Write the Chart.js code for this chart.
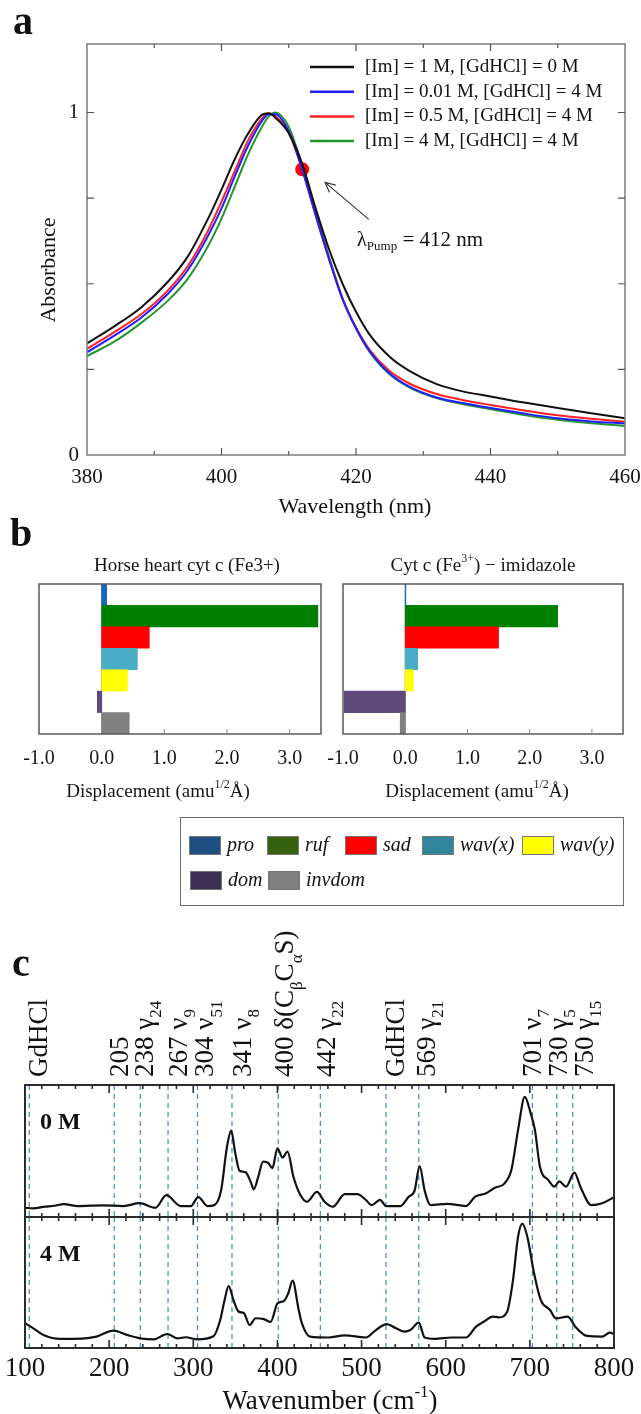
<!DOCTYPE html>
<html>
<head>
<meta charset="utf-8">
<script src="https://cdn.jsdelivr.net/npm/chart.js@4.4.1/dist/chart.umd.min.js"></script>
<style>
  body { margin: 0; background: #fff; }
  #page { position: relative; width: 641px; height: 1414px; overflow: hidden; font-family: "Liberation Serif", "Times New Roman", serif; color: #111; }
  canvas { position: absolute; }
  .tag { position: absolute; font: bold 40px/40px "Liberation Serif", serif; color: #111; }
  #legendB { position: absolute; left: 180px; top: 817px; width: 442px; height: 87px; border: 1.5px solid #6a6a6a; }
  .sw { position: absolute; width: 30px; height: 17px; border: 1px solid #777; }
  .lt { position: absolute; font: italic 20px/20px "Liberation Serif", serif; color: #111; }
</style>
</head>
<body>
<div id="page">
  <canvas id="cA" width="641" height="520" style="left:0;top:0"></canvas>
  <canvas id="cB1" width="325" height="270" style="left:0;top:540px"></canvas>
  <canvas id="cB2" width="316" height="270" style="left:325px;top:540px"></canvas>
  <canvas id="cC1" width="641" height="330" style="left:0;top:890px"></canvas>
  <canvas id="cC2" width="641" height="204" style="left:0;top:1210px"></canvas>
  <div id="legendB"></div>
  <div class="tag" style="left:13px;top:1px">a</div>
  <div class="tag" style="left:10px;top:513px">b</div>
  <div class="tag" style="left:12px;top:943px">c</div>
</div>
<script>
// ---- panel a : absorbance spectra ----
const wavelength = [380, 384, 388, 392, 395, 398, 400, 402, 404, 406, 407, 408, 410, 412, 414, 416, 418, 420, 422, 425, 428, 432, 436, 440, 445, 450, 455, 460];
const absIm1 = [0.326, 0.375, 0.43, 0.505, 0.58, 0.69, 0.775, 0.865, 0.94, 0.993, 0.998, 0.985, 0.94, 0.85, 0.72, 0.60, 0.50, 0.418, 0.352, 0.287, 0.245, 0.207, 0.185, 0.171, 0.153, 0.137, 0.122, 0.107];
const absIm001 = [0.30, 0.348, 0.40, 0.47, 0.54, 0.64, 0.72, 0.815, 0.905, 0.975, 0.995, 0.995, 0.945, 0.834, 0.70, 0.572, 0.455, 0.37, 0.304, 0.238, 0.199, 0.168, 0.151, 0.137, 0.121, 0.107, 0.098, 0.092];
const absIm05 = [0.31, 0.358, 0.41, 0.48, 0.552, 0.655, 0.74, 0.83, 0.92, 0.982, 0.998, 0.99, 0.94, 0.834, 0.70, 0.572, 0.456, 0.372, 0.308, 0.245, 0.208, 0.178, 0.16, 0.146, 0.13, 0.116, 0.106, 0.097];
const absIm4 = [0.289, 0.33, 0.385, 0.45, 0.515, 0.61, 0.69, 0.785, 0.88, 0.958, 0.988, 1.0, 0.958, 0.845, 0.71, 0.578, 0.458, 0.37, 0.302, 0.236, 0.197, 0.166, 0.148, 0.134, 0.117, 0.103, 0.093, 0.085];
const absLabels = ['[Im] = 1 M, [GdHCl] = 0 M', '[Im] = 0.01 M, [GdHCl] = 4 M', '[Im] = 0.5 M, [GdHCl] = 4 M', '[Im] = 4 M, [GdHCl] = 4 M'];
const absColors = ['#111111', '#1f1fff', '#ff2020', '#23952a'];
const pumpNm = 412, pumpAbs = 0.834;
const arrowFrom = [421.9, 0.688], arrowTo = [415.4, 0.796], pumpTextAt = [420.1, 0.627];

// ---- panel b : out-of-plane displacements ----
const modes = ['pro', 'ruf', 'sad', 'wav(x)', 'wav(y)', 'dom', 'invdom'];
const dispNative = [0.08, 3.45, 0.76, 0.57, 0.41, -0.07, 0.44];
const dispImidazole = [0.01, 2.45, 1.50, 0.20, 0.13, -0.98, -0.08];
const barColors = ['#1068c4', '#008000', '#ff0000', '#4bacc6', '#ffff00', '#604a7b', '#808080'];
const legendColors = ['#1f4e82', '#36620f', '#ff0000', '#31869b', '#ffff00', '#3d3052', '#808080'];

// ---- panel c : spectra ----
const wn0M = [100, 109, 124, 135, 146, 163, 192, 217, 236, 255, 268, 285, 297, 306, 317, 325, 333, 340, 345, 350, 355, 362, 368, 372, 377, 383, 389, 394, 400, 406, 412, 419, 427, 435, 447, 456, 466, 480, 495, 505, 512, 522, 529, 546, 556, 563, 569, 575, 582, 602, 624, 635, 648, 658, 670, 678, 686, 694, 701, 706, 712, 722, 729, 735, 743, 753, 760, 773, 786, 800];
const int0M = [0.07, 0.066, 0.078, 0.085, 0.098, 0.083, 0.088, 0.083, 0.105, 0.07, 0.165, 0.083, 0.083, 0.15, 0.083, 0.09, 0.20, 0.53, 0.654, 0.48, 0.35, 0.34, 0.27, 0.21, 0.30, 0.42, 0.41, 0.37, 0.52, 0.45, 0.495, 0.305, 0.17, 0.115, 0.19, 0.116, 0.078, 0.174, 0.174, 0.13, 0.09, 0.13, 0.083, 0.083, 0.154, 0.20, 0.386, 0.20, 0.09, 0.10, 0.083, 0.154, 0.18, 0.22, 0.255, 0.356, 0.66, 0.91, 0.785, 0.66, 0.38, 0.28, 0.23, 0.27, 0.23, 0.336, 0.23, 0.09, 0.104, 0.15];
const wn4M = [100, 110, 122, 142, 168, 185, 205, 221, 237, 253, 269, 281, 291, 304, 324, 332, 337, 342, 348, 354, 360, 367, 374, 384, 392, 400, 408, 413, 418, 425, 429, 439, 461, 480, 505, 517, 530, 541, 551, 558, 568, 575, 587, 607, 624, 636, 645, 656, 663, 673, 680, 686, 691, 697, 705, 713, 724, 731, 745, 754, 768, 786, 795, 800];
const int4M = [0.19, 0.15, 0.10, 0.07, 0.072, 0.087, 0.132, 0.10, 0.074, 0.066, 0.107, 0.074, 0.082, 0.066, 0.09, 0.214, 0.36, 0.473, 0.36, 0.277, 0.267, 0.175, 0.227, 0.22, 0.20, 0.34, 0.36, 0.42, 0.514, 0.30, 0.19, 0.087, 0.08, 0.097, 0.08, 0.137, 0.183, 0.15, 0.125, 0.137, 0.193, 0.08, 0.07, 0.08, 0.08, 0.163, 0.20, 0.24, 0.234, 0.277, 0.52, 0.85, 0.95, 0.85, 0.57, 0.366, 0.29, 0.226, 0.24, 0.163, 0.092, 0.087, 0.117, 0.107];
const markerWn = [105, 206, 237, 270, 305, 346, 401, 451, 529, 568, 703, 732, 751];
const peakLabelWn = [126, 223, 252, 292, 324, 368, 419, 468, 551, 587, 713, 744, 775];
const peakLabels = [
  [['GdHCl']],
  [['205']],
  [['238 γ'], ['24', 'sub']],
  [['267 ν'], ['9', 'sub']],
  [['304 ν'], ['51', 'sub']],
  [['341 ν'], ['8', 'sub']],
  [['400 δ(C'], ['β', 'sub'], ['C'], ['α', 'sub'], ['S)']],
  [['442 γ'], ['22', 'sub']],
  [['GdHCl']],
  [['569 γ'], ['21', 'sub']],
  [['701 ν'], ['7', 'sub']],
  [['730 γ'], ['5', 'sub']],
  [['750 γ'], ['15', 'sub']]
];

const SERIF = '"Liberation Serif", "Times New Roman", serif';
Chart.defaults.font.family = SERIF;
Chart.defaults.color = '#151515';
Chart.defaults.animation = false;
Chart.defaults.responsive = false;
Chart.defaults.events = [];
Chart.defaults.plugins.legend.display = false;
Chart.defaults.plugins.tooltip.enabled = false;

// text with sub/superscripts
function rich(ctx, parts, x, y, size, style, align) {
  const f = p => (style || '') + (p[1] ? Math.round(size * 0.62) : size) + 'px ' + SERIF;
  let w = 0;
  for (const p of parts) { ctx.font = f(p); w += ctx.measureText(p[0]).width; }
  let cx = align === 'center' ? x - w / 2 : x;
  ctx.textAlign = 'left';
  for (const p of parts) {
    ctx.font = f(p);
    const dy = p[1] === 'sub' ? size * 0.3 : p[1] === 'sup' ? -size * 0.36 : 0;
    ctx.fillText(p[0], cx, y + dy);
    cx += ctx.measureText(p[0]).width;
  }
}

// inward tick marks
function ticksX(chart, step, len, major, majorLen, sides) {
  const ctx = chart.ctx, s = chart.scales.x, a = chart.chartArea;
  ctx.beginPath();
  for (let v = s.min + step; v < s.max - 1e-9; v += step) {
    const px = s.getPixelForValue(v);
    const L = Math.abs(v / major - Math.round(v / major)) < 1e-6 ? majorLen : len;
    if (sides.includes('bottom')) { ctx.moveTo(px, a.bottom); ctx.lineTo(px, a.bottom - L); }
    if (sides.includes('top')) { ctx.moveTo(px, a.top); ctx.lineTo(px, a.top + L); }
  }
  ctx.stroke();
}
function ticksY(chart, step, len) {
  const ctx = chart.ctx, s = chart.scales.y, a = chart.chartArea;
  ctx.beginPath();
  for (let v = s.min + step; v < s.max - 1e-9; v += step) {
    const py = s.getPixelForValue(v);
    ctx.moveTo(a.left, py); ctx.lineTo(a.left + len, py);
    ctx.moveTo(a.right, py); ctx.lineTo(a.right - len, py);
  }
  ctx.stroke();
}
// keep the chart area where the layout padding puts it
function fixHeight(h) {
  return s => { s.height = h; s.paddingLeft = 0; s.paddingRight = 0; };
}

// ---------- panel a ----------
const panelA = {
  id: 'panelA',
  afterDraw(chart) {
    const ctx = chart.ctx, a = chart.chartArea, x = chart.scales.x, y = chart.scales.y;
    ctx.save();
    ctx.strokeStyle = '#7d7d7d'; ctx.lineWidth = 1.5;
    ctx.strokeRect(a.left, a.top, a.width, a.height);
    ctx.strokeStyle = '#555'; ctx.lineWidth = 1.2;
    ticksX(chart, 10, 4, 20, 7, ['top', 'bottom']);
    ticksY(chart, 0.25, 7);

    // legend
    ctx.textBaseline = 'middle';
    chart.data.datasets.slice(0, 4).forEach((ds, i) => {
      const ly = 67 + i * 24.7;
      ctx.strokeStyle = ds.borderColor; ctx.lineWidth = 2.5;
      ctx.beginPath(); ctx.moveTo(310, ly); ctx.lineTo(354, ly); ctx.stroke();
      ctx.fillStyle = '#111'; ctx.font = '19px ' + SERIF; ctx.textAlign = 'left';
      ctx.fillText(ds.label, 365, ly);
    });

    // pump arrow + label
    const x1 = x.getPixelForValue(arrowFrom[0]), y1 = y.getPixelForValue(arrowFrom[1]);
    const x2 = x.getPixelForValue(arrowTo[0]), y2 = y.getPixelForValue(arrowTo[1]);
    const ang = Math.atan2(y2 - y1, x2 - x1);
    ctx.strokeStyle = '#333'; ctx.lineWidth = 1.1;
    ctx.beginPath(); ctx.moveTo(x1, y1); ctx.lineTo(x2, y2);
    ctx.moveTo(x2 - 11 * Math.cos(ang - 0.45), y2 - 11 * Math.sin(ang - 0.45)); ctx.lineTo(x2, y2);
    ctx.lineTo(x2 - 11 * Math.cos(ang + 0.45), y2 - 11 * Math.sin(ang + 0.45));
    ctx.stroke();
    ctx.fillStyle = '#111';
    rich(ctx, [['λ'], ['Pump', 'sub'], [' = 412 nm']], x.getPixelForValue(pumpTextAt[0]), y.getPixelForValue(pumpTextAt[1]), 21, '', 'left');

    // axis titles
    ctx.font = '22px ' + SERIF; ctx.textAlign = 'center';
    ctx.fillText('Wavelength (nm)', 355, 507);
    ctx.save(); ctx.translate(49, 270); ctx.rotate(-Math.PI / 2);
    ctx.fillText('Absorbance', 0, 0); ctx.restore();
    ctx.restore();
  }
};

const absSeries = [absIm1, absIm001, absIm05, absIm4];
new Chart(document.getElementById('cA'), {
  type: 'line',
  data: {
    datasets: absSeries.map((vals, i) => ({
      label: absLabels[i],
      data: wavelength.map((w, k) => ({ x: w, y: vals[k] })),
      borderColor: absColors[i], borderWidth: 2, pointRadius: 0,
      cubicInterpolationMode: 'monotone', fill: false
    })).concat([{
      type: 'scatter', label: 'pump', data: [{ x: pumpNm, y: pumpAbs }],
      pointRadius: 7, backgroundColor: '#ff0000', borderWidth: 0
    }])
  },
  options: {
    layout: { padding: { top: 44, right: 16, left: 0, bottom: 0 } },
    scales: {
      x: {
        type: 'linear', min: 380, max: 460,
        grid: { display: false, drawTicks: false }, border: { display: false },
        ticks: { stepSize: 20, padding: 10, font: { size: 21 }, color: '#151515' },
        afterFit: fixHeight(65)
      },
      y: {
        min: 0, max: 1.2,
        grid: { display: false, drawTicks: false }, border: { display: false },
        ticks: { stepSize: 0.25, padding: 8, font: { size: 21 }, color: '#151515',
          callback: v => (v === 0 ? '0' : v === 1 ? '1' : '') },
        afterFit(s) { s.width = 87; }
      }
    }
  },
  plugins: [panelA]
});

// ---------- panel b ----------
function panelB(title, titleX, axisX) {
  return {
    id: 'panelB',
    beforeDatasetsDraw(chart) {
      const ctx = chart.ctx, a = chart.chartArea, px = chart.scales.x.getPixelForValue(0);
      ctx.save(); ctx.strokeStyle = '#8a8a8a'; ctx.lineWidth = 1;
      ctx.beginPath(); ctx.moveTo(px, a.top); ctx.lineTo(px, a.bottom); ctx.stroke(); ctx.restore();
    },
    afterDraw(chart) {
      const ctx = chart.ctx, a = chart.chartArea;
      ctx.save();
      ctx.strokeStyle = '#5a5a5a'; ctx.lineWidth = 1.5;
      ctx.strokeRect(a.left, a.top, a.width, a.height);
      ctx.strokeStyle = '#888'; ctx.lineWidth = 1;
      const s = chart.scales.x;
      ctx.beginPath();
      for (let v = 1; v <= 3; v++) {
        const px = s.getPixelForValue(v);
        ctx.moveTo(px, a.bottom); ctx.lineTo(px, a.bottom - 5);
      }
      ctx.stroke();
      ctx.fillStyle = '#151515'; ctx.textBaseline = 'middle';
      rich(ctx, title, titleX, 26, 19, '', 'center');
      rich(ctx, [['Displacement (amu'], ['1/2', 'sup'], ['Å)']], axisX, 252, 19, '', 'center');
      ctx.restore();
    }
  };
}

function barChart(id, values, padL, padR, title, titleX, axisX) {
  return new Chart(document.getElementById(id), {
    type: 'bar',
    data: {
      labels: modes,
      datasets: [{ data: values, backgroundColor: barColors, borderWidth: 0, barPercentage: 1, categoryPercentage: 1 }]
    },
    options: {
      indexAxis: 'y',
      layout: { padding: { top: 44, left: padL, right: padR, bottom: 0 } },
      scales: {
        y: { display: false },
        x: {
          type: 'linear', min: -1, max: 3.5,
          grid: { display: false, drawTicks: false }, border: { display: false },
          ticks: { stepSize: 1, padding: 13, includeBounds: false, font: { size: 20 }, color: '#151515',
            callback: v => (Number.isInteger(v) ? v.toFixed(1) : '') },
          afterFit: fixHeight(76)
        }
      }
    },
    plugins: [panelB(title, titleX, axisX)]
  });
}
barChart('cB1', dispNative, 39, 4, [['Horse heart cyt c (Fe3+)']], 187, 158);
barChart('cB2', dispImidazole, 18, 18, [['Cyt c (Fe'], ['3+', 'sup'], [') − imidazole']], 158, 152);

// legend for panel b
const lg = document.getElementById('legendB');
const slots = [[8, 27], [86, 27], [164, 27], [241, 27], [341, 27], [9, 62], [87, 62]];
modes.forEach((m, i) => {
  const sw = document.createElement('div');
  sw.className = 'sw';
  sw.style.left = slots[i][0] + 'px'; sw.style.top = (slots[i][1] - 9) + 'px';
  sw.style.background = legendColors[i];
  lg.appendChild(sw);
  const t = document.createElement('div');
  t.className = 'lt'; t.textContent = m;
  t.style.left = (slots[i][0] + 38) + 'px'; t.style.top = (slots[i][1] - 11) + 'px';
  lg.appendChild(t);
});

// ---------- panel c ----------
function panelC(tag, withLabels, withTitle) {
  return {
    id: 'panelC',
    beforeDatasetsDraw(chart) {
      const ctx = chart.ctx, a = chart.chartArea, s = chart.scales.x;
      ctx.save(); ctx.strokeStyle = '#4a86c8'; ctx.lineWidth = 1.2; ctx.setLineDash([5, 4]);
      ctx.beginPath();
      markerWn.forEach(w => { const px = s.getPixelForValue(w); ctx.moveTo(px, a.top); ctx.lineTo(px, a.bottom); });
      ctx.stroke(); ctx.restore();
    },
    afterDraw(chart) {
      const ctx = chart.ctx, a = chart.chartArea, s = chart.scales.x;
      ctx.save();
      ctx.strokeStyle = '#2b2b2b'; ctx.lineWidth = 2;
      ctx.strokeRect(a.left, a.top, a.width, a.height);
      ctx.lineWidth = 1.6;
      ticksX(chart, 20, 4, 100, 8, ['top', 'bottom']);
      ctx.fillStyle = '#111'; ctx.textBaseline = 'middle'; ctx.textAlign = 'left';
      ctx.font = 'bold 24px ' + SERIF;
      ctx.fillText(tag, a.left + 15, a.top + 38);
      if (withLabels) {
        ctx.textBaseline = 'alphabetic';
        peakLabels.forEach((parts, i) => {
          ctx.save();
          ctx.translate(s.getPixelForValue(peakLabelWn[i]), a.top - 8);
          ctx.rotate(-Math.PI / 2);
          rich(ctx, parts, 0, 0, 27, '', 'left');
          ctx.restore();
        });
      }
      if (withTitle) {
        ctx.textBaseline = 'middle';
        rich(ctx, [['Wavenumber (cm'], ['-1', 'sup'], [')']], 330, a.bottom + 54, 27, '', 'center');
      }
      ctx.restore();
    }
  };
}

function spectrum(id, wn, vals, pad, withAxis, tag, withLabels) {
  const xScale = {
    type: 'linear', min: 100, max: 800, display: withAxis,
    grid: { display: false, drawTicks: false }, border: { display: false },
    ticks: { stepSize: 100, padding: 5, font: { size: 27 }, color: '#151515' }
  };
  if (withAxis) xScale.afterFit = fixHeight(66);
  return new Chart(document.getElementById(id), {
    type: 'line',
    data: { datasets: [{ data: wn.map((w, k) => ({ x: w, y: vals[k] })), borderColor: '#111', borderWidth: 2.2,
      pointRadius: 0, cubicInterpolationMode: 'monotone', fill: false }] },
    options: {
      layout: { padding: pad },
      scales: { x: xScale, y: { min: 0, max: 1, display: false } }
    },
    plugins: [panelC(tag, withLabels, withAxis)]
  });
}
spectrum('cC1', wn0M, int0M, { top: 195, left: 25, right: 27, bottom: 3 }, false, '0 M', true);
spectrum('cC2', wn4M, int4M, { top: 7, left: 25, right: 27, bottom: 0 }, true, '4 M', false);
</script>
</body>
</html>
